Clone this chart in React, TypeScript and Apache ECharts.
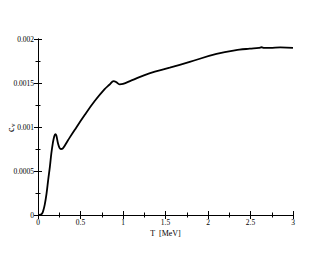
import React, { useEffect, useRef } from "react";
import * as echarts from "echarts";

const T_MEV = [0, 0.03, 0.05, 0.065, 0.08, 0.1, 0.12, 0.14, 0.157, 0.175, 0.19, 0.204, 0.215, 0.235, 0.255, 0.27, 0.29, 0.353, 0.431, 0.549, 0.667, 0.784, 0.84, 0.89, 0.92, 0.96, 1.0, 1.1, 1.31, 1.55, 1.785, 2.1, 2.37, 2.49, 2.6, 2.63, 2.66, 2.73, 2.85, 3.0];
const CV = [0, 0.000003, 0.00002, 0.00006, 0.00012, 0.00024, 0.0004, 0.00055, 0.0007, 0.00082, 0.00089, 0.00092, 0.000905, 0.000815, 0.00076, 0.00075, 0.000755, 0.00085, 0.000966, 0.001136, 0.001295, 0.00143, 0.00148, 0.001522, 0.00151, 0.001485, 0.00149, 0.00153, 0.00161, 0.001674, 0.00174, 0.00183, 0.001878, 0.00189, 0.0019, 0.001906, 0.0019, 0.0019, 0.001905, 0.0019];
const X_NAME = "T  [MeV]";
const Y_NAME = "c";
const Y_NAME_SUB = "v";

const FONT = "'Liberation Serif', 'DejaVu Serif', serif";

export default function App() {
  const ref = useRef<HTMLDivElement>(null);
  useEffect(() => {
    if (!ref.current) return;
    const chart = echarts.init(ref.current, null, { renderer: "svg" });
    const line = { show: true, lineStyle: { color: "#000", width: 1 } };
    const tick = { show: true, inside: true, length: 4, lineStyle: { color: "#000", width: 1 } };
    const minor = { show: true, splitNumber: 2, length: 2.5, lineStyle: { color: "#000", width: 1 } };
    const fmt = (v: number) => String(parseFloat(v.toPrecision(6)));
    chart.setOption({
      animation: false,
      backgroundColor: "#fff",
      grid: { left: 38, top: 39, right: 37, bottom: 40, containLabel: false, outerBoundsMode: "none" },
      graphic: [
        {
          type: "group", x: 10, y: 132, rotation: Math.PI / 2,
          children: [
            { type: "text", x: 0, y: 0, style: { text: Y_NAME, font: `10px ${FONT}`, fill: "#000", textAlign: "left", textVerticalAlign: "middle" } },
            { type: "text", x: 5, y: 3, style: { text: Y_NAME_SUB, font: `7px ${FONT}`, fill: "#000", textAlign: "left", textVerticalAlign: "middle" } },
          ],
        },
      ],
      xAxis: [
        {
          type: "value", min: 0, max: 3, interval: 0.5, position: "bottom",
          axisLine: line, axisTick: tick, minorTick: minor, splitLine: { show: false },
          axisLabel: { fontFamily: FONT, fontSize: 7.5, color: "#000", margin: 3, formatter: fmt },
          name: X_NAME, nameLocation: "middle", nameGap: 14, nameMoveOverlap: false,
          nameTextStyle: { fontFamily: FONT, fontSize: 8, color: "#000" },
        },
        {
          type: "value", min: 0, max: 3, interval: 0.5, position: "top",
          axisLine: line, axisTick: tick, minorTick: minor, splitLine: { show: false },
          axisLabel: { show: false },
        },
      ],
      yAxis: [
        {
          type: "value", min: 0, max: 0.002, interval: 0.0005, position: "left",
          axisLine: line, axisTick: tick, minorTick: minor, splitLine: { show: false },
          axisLabel: { fontFamily: FONT, fontSize: 7.5, color: "#000", margin: 4, formatter: fmt },
        },
        {
          type: "value", min: 0, max: 0.002, interval: 0.0005, position: "right",
          axisLine: line, axisTick: tick, minorTick: minor, splitLine: { show: false },
          axisLabel: { show: false },
        },
      ],
      series: [
        {
          type: "line", xAxisIndex: 0, yAxisIndex: 0, showSymbol: false, smooth: 0.4,
          lineStyle: { color: "#000", width: 1.8 },
          data: T_MEV.map((t, i) => [t, CV[i]]),
        },
      ],
    });
    return () => chart.dispose();
  }, []);
  return <div ref={ref} style={{ width: 330, height: 255, margin: -8 }} />;
}
